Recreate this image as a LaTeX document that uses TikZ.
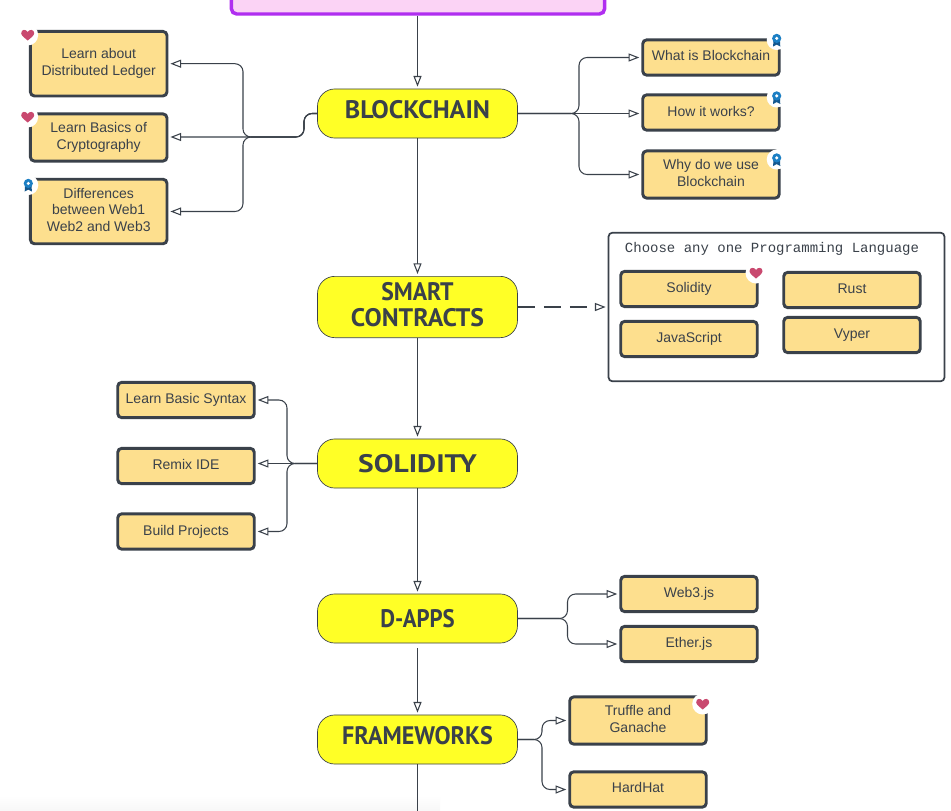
\documentclass[tikz,border=0pt]{standalone}
\usepackage{fontspec}
\setmainfont{Liberation Sans}
\newfontfamily\titlefont{PT Sans}
\newfontfamily\codefont{Liberation Mono}
\usetikzlibrary{arrows.meta}
\definecolor{ink}{HTML}{3A414A}
\definecolor{cardfill}{HTML}{FDDF8E}
\definecolor{pillfill}{HTML}{FFFF26}
\definecolor{heartred}{HTML}{C9496F}
\definecolor{ribbonblue}{HTML}{1C7FC4}
\definecolor{ribbondark}{HTML}{14588F}
\definecolor{topedge}{HTML}{B02EF0}
\definecolor{pinkfill}{HTML}{FBD3F5}
\newcommand\upby[2]{\raisebox{#1}[\height][\depth]{\begin{tabular}{@{}c@{}}#2\end{tabular}}}
\newcommand\wide[2]{\scalebox{#1}[1]{#2}}
\tikzset{
  x=0.75pt,y=-0.75pt,
  card/.style={draw=ink,line width=2.2pt,fill=cardfill,rounded corners=3pt,minimum width=102.4pt,
    inner sep=0pt,align=center,text=ink,font=\fontsize{10.5}{12.6}\selectfont},
  pill/.style={draw=ink,line width=0.5pt,fill=pillfill,rounded corners=13pt,minimum width=150pt,inner sep=0pt,
    align=center,text=ink,font=\titlefont\bfseries\fontsize{19}{18}\selectfont},
  conn/.style={draw=ink,line width=0.8pt,rounded corners=6pt,-{Triangle[length=8pt,width=6pt,fill=white,line width=0.8pt]},shorten >=1.5pt},
  plain/.style={draw=ink,line width=0.8pt,rounded corners=6pt},
  heartbadge/.pic={
    \fill[white] (0,0) circle (10.5);
    \fill[heartred] (0,5.5) .. controls (-3,3) and (-6.5,0.5) .. (-6.5,-1.8) .. controls (-6.5,-6) and (-1.5,-6) .. (0,-3) .. controls (1.5,-6) and (6.5,-6) .. (6.5,-1.8) .. controls (6.5,0.5) and (3,3) .. cycle;
  },
  ribbonbadge/.pic={
    \fill[white] (0,0) circle (10);
    \fill[ribbondark] (-3.2,0) -- (-3.6,6.5) -- (0,4.6) -- (3.6,6.5) -- (3.2,0) -- cycle;
    \fill[ribbonblue] (0,-1.6) circle (4.6);
    \fill[white] (0,-1.6) circle (1.7);
  },
}
\begin{document}
\begin{tikzpicture}
\clip (0,0) rectangle (951,811);
\fill[white] (0,0) rectangle (951,811);
\shade[top color=white,bottom color=black!3,draw=none] (0,795) rectangle (440,811);

% top box
\node[draw=topedge,line width=2.6pt,fill=pinkfill,rounded corners=4pt,minimum width=280pt,minimum height=45pt,inner sep=0pt] (top) at (418,-16) {};

% pills
\node[pill,minimum height=36.8pt] (bc) at (417.5,113.5) {\upby{0pt}{\wide{1.03}{BLOCKCHAIN}}};
\node[pill,minimum height=46pt] (sc) at (417.5,307) {\upby{-0.8pt}{\wide{0.935}{SMART}\\\wide{1.015}{CONTRACTS}}};
\node[pill,minimum height=36.8pt] (so) at (417.5,463.5) {\wide{1.165}{SOLIDITY}};
\node[pill,minimum height=36.8pt] (da) at (417.5,618.5) {\wide{0.9}{D-APPS}};
\node[pill,minimum height=36.8pt] (fr) at (417.5,739.5) {\upby{0pt}{\wide{0.95}{FRAMEWORKS}}};

% left cards
\node[card,minimum height=48.4pt] (dl) at (98.7,63.7) {Learn about\\Distributed Ledger};
\node[card,minimum height=35.4pt] (cr) at (98.7,137.5) {Learn Basics of\\Cryptography};
\node[card,minimum height=48.4pt] (we) at (98.7,211.5) {\upby{0pt}{Differences\\between Web1\\Web2 and Web3}};

% right cards
\node[card,minimum height=26.5pt] (wh) at (711,57.5) {\upby{0pt}{What is Blockchain}};
\node[card,minimum height=26.5pt] (ho) at (711,112.5) {\upby{-0.75pt}{How it works?}};
\node[card,minimum height=35.4pt] (wy) at (711,174.5) {\upby{0pt}{Why do we use\\Blockchain}};

% language panel
\node[draw=ink,line width=1.3pt,fill=white,rounded corners=3pt,minimum width=252pt,minimum height=111.5pt,inner sep=0pt] (lang) at (776.5,307) {};
\node[text=ink,font=\codefont\fontsize{10.5}{12}\selectfont,inner sep=0pt] (langt) at (772,248.5) {Choose any one Programming Language};
\node[card,minimum height=26.5pt] (ls) at (689,289) {Solidity};
\node[card,minimum height=26.5pt] (lr) at (852,290) {\upby{0pt}{Rust}};
\node[card,minimum height=26.5pt] (lj) at (689,339) {JavaScript};
\node[card,minimum height=26.5pt] (lv) at (852,335) {Vyper};

% solidity cards
\node[card,minimum height=26.5pt] (sy) at (186,400) {Learn Basic Syntax};
\node[card,minimum height=26.5pt] (re) at (186,466) {\upby{0pt}{Remix IDE}};
\node[card,minimum height=26.5pt] (bp) at (186,531.5) {Build Projects};

% d-apps cards
\node[card,minimum height=26.5pt] (w3) at (689,594) {Web3.js};
\node[card,minimum height=26.5pt] (et) at (689,644) {Ether.js};

% frameworks cards
\node[card,minimum height=35.4pt] (tr) at (638,720.5) {\upby{0pt}{Truffle and\\Ganache}};
\node[card,minimum height=26.5pt] (hh) at (638,789.5) {\upby{0.5pt}{HardHat}};

% branch points
\coordinate (bcK) at (304,137);
\coordinate (bcL) at (243,137);
\coordinate (bcR) at (579,113.5);
\coordinate (soL) at (287,463.5);
\coordinate (daR) at (567.5,618.5);
\coordinate (frR) at (542,739.5);
\coordinate (daout) at (417.5,648);
\coordinate (frout) at (417.5,811);

% vertical spine
\draw[conn] (top.south -| bc.north) -- (bc.north);
\draw[conn] (bc.south) -- (sc.north);
\draw[conn] (sc.south) -- (so.north);
\draw[conn] (so.south) -- (da.north);
\draw[conn] (daout) -- (fr.north);
\draw[plain] (fr.south) -- (frout);

% blockchain left
\draw[conn] (bc.west) -| (bcK) -- (bcL) |- (dl.east);
\draw[conn] (bc.west) -| (bcK) -- (bcK -| cr.east);
\draw[conn] (bc.west) -| (bcK) -- (bcL) |- (we.east);

% blockchain right
\draw[conn] (bc.east) -- (bcR) |- (wh.west);
\draw[conn] (bc.east) -- (bc.east -| ho.west);
\draw[conn] (bc.east) -- (bcR) |- (wy.west);

% smart contracts
\draw[conn,line width=1.5pt,dash pattern=on 13pt off 6.5pt] (sc.east) -- (lang.west);

% solidity
\draw[conn] (so.west) -- (soL) |- (sy.east);
\draw[conn] (so.west) -- (so.west -| re.east);
\draw[conn] (so.west) -- (soL) |- (bp.east);

% d-apps
\draw[conn] (da.east) -- (daR) |- (w3.west);
\draw[conn] (da.east) -- (daR) |- (et.west);

% frameworks
\draw[conn] (fr.east) -- (frR) |- (tr.west);
\draw[conn] (fr.east) -- (frR) |- (hh.west);

% badges
\pic at (27.7,35) {heartbadge};
\pic at (27.7,117) {heartbadge};
\pic at (28.3,185) {ribbonbadge};
\pic at (776.7,40) {ribbonbadge};
\pic at (776.7,97.5) {ribbonbadge};
\pic at (776.7,159.5) {ribbonbadge};
\pic at (756,273) {heartbadge};
\pic at (702.7,704) {heartbadge};
\end{tikzpicture}
\end{document}
